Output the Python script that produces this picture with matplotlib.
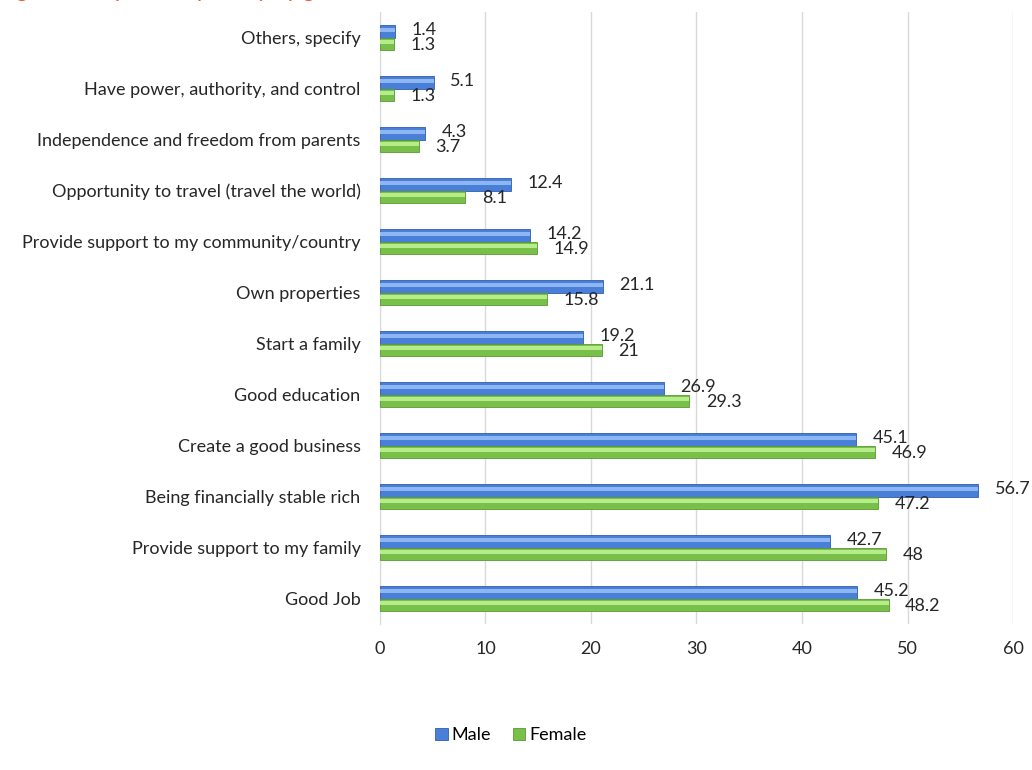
import matplotlib.pyplot as plt
import numpy as np

categories = [
    "Good Job",
    "Provide support to my family",
    "Being financially stable rich",
    "Create a good business",
    "Good education",
    "Start a family",
    "Own properties",
    "Provide support to my community/country",
    "Opportunity to travel (travel the world)",
    "Independence and freedom from parents",
    "Have power, authority, and control",
    "Others, specify",
]
male = [45.2, 42.7, 56.7, 45.1, 26.9, 19.2, 21.1, 14.2, 12.4, 4.3, 5.1, 1.4]
female = [48.2, 48, 47.2, 46.9, 29.3, 21, 15.8, 14.9, 8.1, 3.7, 1.3, 1.3]

plt.rcParams['font.family'] = ['Lato', 'DejaVu Sans']
FS = 13

fig = plt.figure(figsize=(10.32, 7.7), dpi=100)
ax = fig.add_axes([0.3682, 0.1896, 0.6134, 0.7948])

y = np.arange(len(categories))
h = 0.245

# bars with a light highlight strip to mimic the bevel
ax.barh(y + h / 2, male, height=h, color='#4A7FD8', edgecolor='#2F5FB0', linewidth=0.6, zorder=3, label='Male')
ax.barh(y + h / 2 + h * 0.12, male, height=h * 0.3, color='#8DB6F2', linewidth=0, zorder=4)
ax.barh(y - h / 2, female, height=h, color='#79C04A', edgecolor='#5A9A33', linewidth=0.6, zorder=3, label='Female')
ax.barh(y - h / 2 + h * 0.12, female, height=h * 0.3, color='#B6EC8A', linewidth=0, zorder=4)

for i in range(len(categories)):
    ax.annotate(f"{male[i]:g}", (male[i], y[i] + h / 2 + 0.02), xytext=(12, 0),
                textcoords='offset points', va='center', ha='left', fontsize=FS, color='#262626')
    ax.annotate(f"{female[i]:g}", (female[i], y[i] - h / 2 - 0.02), xytext=(12, 0),
                textcoords='offset points', va='center', ha='left', fontsize=FS, color='#262626')

ax.set_xlim(0, 60)
ax.set_ylim(-0.5, len(categories) - 0.5)
ax.set_xticks(range(0, 61, 10))
ax.set_yticks(y)
ax.set_yticklabels(categories, fontsize=FS, color='#262626')
ax.tick_params(axis='both', length=0, labelsize=FS, labelcolor='#262626')
ax.tick_params(axis='x', pad=12)
ax.tick_params(axis='y', pad=14)
ax.grid(axis='x', color='#D9D9D9', linewidth=1, zorder=0)
for s in ['top', 'right', 'bottom']:
    ax.spines[s].set_visible(False)
ax.spines['left'].set_color('#D9D9D9')

handles, labels = ax.get_legend_handles_labels()
fig.legend(handles, labels, loc='center', bbox_to_anchor=(0.495, 0.045), ncol=2, frameon=False,
           fontsize=FS, handlelength=0.7, handleheight=0.7, handletextpad=0.2, columnspacing=1.2)

# title, cut off at the top edge in the original
fig.text(0.0, 1.004, "Figure 4: Aspiration priority by gender", fontsize=17, style='italic',
         color='#F0562A', ha='left', va='baseline')

fig.savefig("out.png", dpi=100)
